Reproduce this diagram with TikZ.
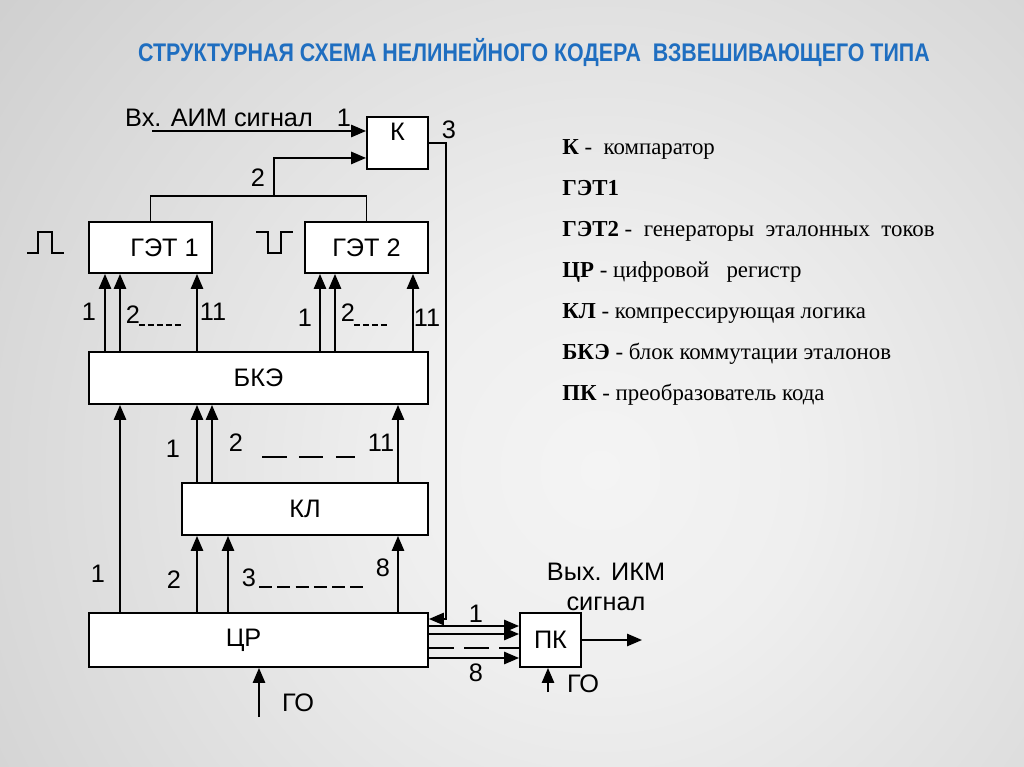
\documentclass[tikz,border=0pt]{standalone}
\usepackage{fontspec}
\setmainfont{Liberation Serif}
\setsansfont{Liberation Sans}
\usetikzlibrary{arrows.meta, calc, positioning}
\definecolor{titleblue}{HTML}{1F6EC0}
\definecolor{bgc0}{HTML}{F4F4F4}
\definecolor{bgc1}{HTML}{EFEFEF}
\definecolor{bgc2}{HTML}{D9D9D9}
\definecolor{bgc3}{HTML}{C9C9C9}
\definecolor{bgc4}{HTML}{BDBDBD}
\definecolor{bgc5}{HTML}{B3B3B3}
\pgfdeclareradialshading{fon}{\pgfpoint{0bp}{0bp}}{color(0bp)=(bgc0); color(5bp)=(bgc1);
  color(15bp)=(bgc2); color(22bp)=(bgc3); color(30bp)=(bgc4); color(40bp)=(bgc5); color(50bp)=(bgc5)}
\newcommand{\dsize}{\fontsize{14.4}{17}\selectfont}
\newcommand{\lsize}{\fontsize{13}{16}\selectfont}
\tikzset{
  % блок схемы
  blk/.style={draw, line width=1.1pt, fill=white, font=\dsize\sffamily, inner sep=0pt},
  % линия связи со стрелкой
  sig/.style={line width=1pt, -{Triangle[length=8.5pt, width=7pt]}},
  wire/.style={line width=1pt},
  % номера линий
  lbl/.style={font=\dsize\sffamily, inner sep=0pt},
  % пунктир между номерами
  gap/.style={line width=0.8pt, dash pattern=on #1},
  % строки пояснений справа
  leg/.style={font=\lsize\rmfamily, anchor=base west, inner sep=0pt},
}

\begin{document}
\begin{tikzpicture}[x=0.02cm, y=-0.02cm]
  % фон
  \begin{scope}
    \clip (0,0) rectangle (1024,767);
    \shade[shading=fon] (-400,-530) rectangle (1600,1470);
  \end{scope}
  \useasboundingbox (0,0) rectangle (1024,767);

  \node[font=\sffamily\bfseries\fontsize{14.5}{17}\selectfont, text=titleblue] (title) at (534,53)
    {\scalebox{0.84}[1]{СТРУКТУРНАЯ СХЕМА НЕЛИНЕЙНОГО КОДЕРА \ ВЗВЕШИВАЮЩЕГО ТИПА}};

  % блоки
  \node[blk, minimum width=1.22cm, minimum height=1.04cm,
    label={[lbl, anchor=north, yshift=-4pt]north:К}] (k) at (397.5,143) {};
  \node[blk, minimum width=2.46cm, minimum height=1.02cm] (get1) at (150.5,247.5) {\hspace*{16pt}ГЭТ 1};
  \node[blk, minimum width=2.46cm, minimum height=1.02cm] (get2) at (366.5,247.5) {ГЭТ 2};
  \node[blk, minimum width=6.78cm, minimum height=1.04cm] (bke) at (258.5,378) {БКЭ};
  \node[blk, minimum width=4.92cm, minimum height=1.04cm] (kl) at (305,509) {КЛ};
  \node[blk, minimum width=6.78cm, minimum height=1.08cm] (cr) at (258.5,640) {ЦР\hspace*{17pt}};
  \node[blk, minimum width=1.22cm, minimum height=1.08cm] (pk) at (550.5,640) {\raisebox{-4pt}{ПК}};

  % вход и компаратор
  \coordinate (vx) at (152,131);
  \coordinate (bus) at (274,196);
  \coordinate (fb) at (446,619);
  \node[lbl] (vxlbl) at (219,118) {Вх. АИМ сигнал};
  \node[lbl] (n1k) at (344,118) {1};
  \node[lbl] (n2k) at (258,178) {2};
  \node[lbl] (n3k) at (449,130) {3};
  \draw[sig] (vx) -- (vx -| k.west);
  \draw[wire] (get1.north) |- (bus) -| (get2.north);
  \draw[sig] (bus) |- ($(k.south west)+(0,-12)$);
  \draw[sig] (k.east) -| (fb) -- (fb -| cr.east);

  % импульсы
  \draw[wire] (27,253) -- (38,253) -- (38,232) -- (52,232) -- (52,253) -- (64,253);
  \draw[wire] (256,232) -- (268,232) -- (268,253) -- (281,253) -- (281,232) -- (293,232);

  % БКЭ -> ГЭТ
  \foreach \x in {105,120,197} \draw[sig] (bke.north -| \x,0) -- (get1.south -| \x,0);
  \foreach \x in {320,335,413} \draw[sig] (bke.north -| \x,0) -- (get2.south -| \x,0);
  \node[lbl] at (89,312) {1};
  \node[lbl] at (133,315) {2};
  \draw[gap={3.6pt off 1.5pt}] (139,325) -- (182,325);
  \node[lbl] at (213,312) {11};
  \node[lbl] at (305,318) {1};
  \node[lbl] at (348,313) {2};
  \draw[gap={3.6pt off 1.5pt}] (354,325) -- (388,325);
  \node[lbl] at (427,318) {11};

  % КЛ -> БКЭ, ЦР -> БКЭ
  \foreach \x in {197,212,398} \draw[sig] (kl.north -| \x,0) -- (bke.south -| \x,0);
  \draw[sig] (cr.north -| 120,0) -- (bke.south -| 120,0);
  \node[lbl] at (173,449) {1};
  \node[lbl] at (236,443) {2};
  \draw[gap={14pt off 7pt}] (262,457) -- (355,457);
  \node[lbl] at (381,443) {11};

  % ЦР -> КЛ
  \foreach \x in {197,228,398} \draw[sig] (cr.north -| \x,0) -- (kl.south -| \x,0);
  \node[lbl] at (98,574) {1};
  \node[lbl] at (174,580) {2};
  \node[lbl] at (249,578) {3};
  \draw[gap={7.4pt off 3pt}] (259,587) -- (365,587);
  \node[lbl] at (383,568) {8};

  % ЦР -> ПК
  \foreach \y in {626,634,658} \draw[sig] (cr.east |- 0,\y) -- (pk.west |- 0,\y);
  \draw[gap={14pt off 6pt}] (cr.east |- 0,648) -- (pk.west |- 0,648);
  \node[lbl] at (476,614) {1};
  \node[lbl] at (476,673) {8};

  % выход и ГО
  \coordinate (vyx) at (642,640);
  \coordinate (go1) at (259,717);
  \coordinate (go2) at (548,692);
  \draw[sig] (pk.east) -- (vyx);
  \draw[sig] (go1) -- (go1 |- cr.south);
  \draw[sig] (go2) -- (go2 |- pk.south);
  \node[lbl, align=center] (vyxlbl) at (606,587) {Вых. ИКМ\\сигнал};
  \node[lbl] at (298,703) {ГО};
  \node[lbl] at (583,684) {ГО};

  % пояснения
  \node[leg] at (562,154) {\textbf{К} -\ \ компаратор};
  \node[leg] at (562,195) {\textbf{ГЭТ1}};
  \node[leg] at (562,236) {\textbf{ГЭТ2} -\ \ генераторы\ \ эталонных\ \ токов};
  \node[leg] at (562,277) {\textbf{ЦР} - цифровой\ \ \ регистр};
  \node[leg] at (562,318) {\textbf{КЛ} - компрессирующая логика};
  \node[leg] at (562,359) {\textbf{БКЭ} - блок коммутации эталонов};
  \node[leg] at (562,400) {\textbf{ПК} - преобразователь кода};
\end{tikzpicture}
\end{document}
